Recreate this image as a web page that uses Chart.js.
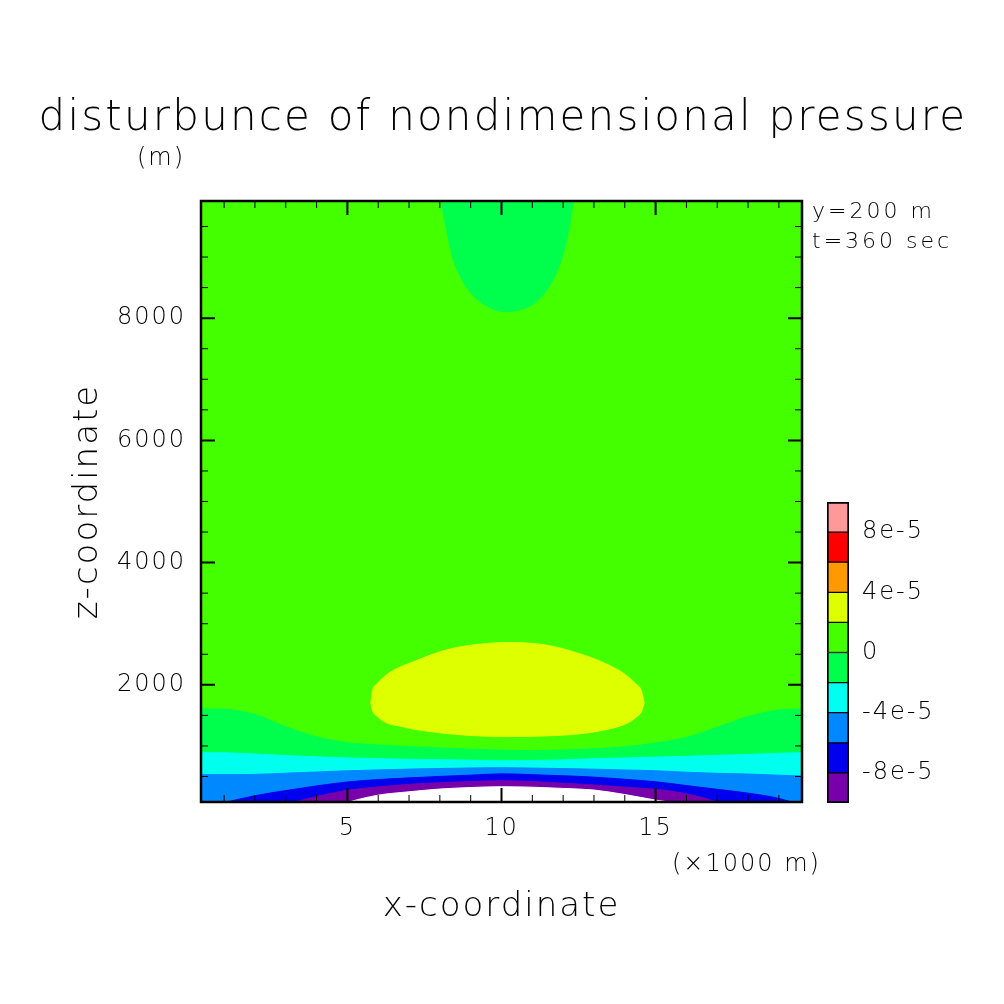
<!DOCTYPE html>
<html>
<head>
<meta charset="utf-8">
<script src="https://cdn.jsdelivr.net/npm/chart.js@4.4.1/dist/chart.umd.min.js"></script>
<style>
  html, body { margin: 0; padding: 0; background: #fff; }
  #page { position: relative; width: 1004px; height: 1004px; overflow: hidden; }
  #main-box { position: absolute; left: 0; top: 0; width: 1004px; height: 1004px; }
  #bar-box { position: absolute; left: 800px; top: 480px; width: 204px; height: 340px; }
  .note { position: absolute; font-family: "DejaVu Sans", sans-serif; font-weight: 200;
          letter-spacing: 2px; line-height: 1; white-space: nowrap; color: #000; }
  #title { left: 0; width: 1004px; text-align: center; padding-left: 2px; box-sizing: border-box;
           top: 95px; font-size: 42px; letter-spacing: 2.2px; }
</style>
</head>
<body>
<div id="page">
  <div id="main-box"><canvas id="main"></canvas></div>
  <div id="bar-box"><canvas id="bar"></canvas></div>
  <div id="title" class="note">disturbunce of nondimensional pressure</div>
  <div class="note" style="left:137px; top:145px; font-size:24px;">(m)</div>
  <div class="note" style="left:812px; top:200px; font-size:22px; letter-spacing:3px;">y=200 m</div>
  <div class="note" style="left:812px; top:230px; font-size:22px; letter-spacing:3px;">t=360 sec</div>
  <div class="note" style="left:672px; top:851px; font-size:24px;">(×1000 m)</div>
</div>
<script>
const FONT = '"DejaVu Sans", sans-serif';

// x positions (x1000 m) where the contour heights were read
const xGrid = [0.25, 1, 2, 3, 4, 5, 6, 7, 8, 9, 10, 11, 12, 13, 14, 15, 16, 17, 18, 19, 19.75];

// contour heights z (m) along xGrid, per level
const zLevel0   = [1606, 1600, 1515, 1315, 1150, 1055, 1015, 990, 968, 948, 932, 925, 933, 955, 985, 1050, 1140, 1305, 1480, 1590, 1606];
const zLevelM2  = [890, 888, 868, 843, 822, 805, 792, 783, 775, 767, 759, 762, 772, 790, 805, 818, 830, 847, 862, 880, 890];
const zLevelM4  = [530, 531, 535, 555, 574, 594, 608, 621, 631, 640, 645, 638, 630, 620, 607, 595, 570, 552, 540, 522, 508];
const zLevelM6  = [-20, 72, 186, 270, 346, 411, 450, 478, 502, 522, 544, 530, 512, 490, 455, 414, 352, 290, 228, 142, 30];
const zLevelM8  = [null, null, -100, 42, 172, 274, 330, 372, 398, 418, 432, 418, 390, 362, 326, 290, 217, 85, -60, null, null];
const zLevelM10 = [null, null, null, null, -80, 77, 195, 250, 295, 320, 333, 325, 305, 279, 205, 114, 40, -80, null, null, null];

// closed +2e-5 region near the ground
const yellowX     = [5.76, 5.81, 5.98, 6.30, 6.63, 7.17, 7.71, 8.36, 9.12, 10.2, 11.40, 12.48, 13.35, 14.0, 14.33, 14.55, 14.63];
const yellowUpper = [1705, 1890, 2027, 2175, 2273, 2382, 2491, 2590, 2655, 2693, 2655, 2519, 2355, 2175, 2027, 1890, 1705];
const yellowLower = [1705, 1590, 1480, 1372, 1333, 1273, 1234, 1196, 1169, 1153, 1164, 1196, 1262, 1355, 1454, 1573, 1705];

// negative region hanging from the top
const topX = [8.03, 8.2, 8.42, 8.74, 9.28, 10.15, 11.02, 11.45, 11.89, 12.16, 12.34];
const topZ = [9950, 9485, 8993, 8610, 8282, 8108, 8228, 8446, 8883, 9375, 9950];

// colour bar
const levels = [-1e-4, -8e-5, -6e-5, -4e-5, -2e-5, 0, 2e-5, 4e-5, 6e-5, 8e-5, 1e-4];
const levelColors = ['#7700aa', '#0000ee', '#0088ff', '#00ffee', '#00ff4c',
                     '#44ff00', '#ddff00', '#ff9900', '#ff0000', '#ff9999'];
const barTicks = [-8e-5, -4e-5, 0, 4e-5, 8e-5];
const barTickLabels = ['-8e-5', '-4e-5', '0', '4e-5', '8e-5'];

// axis ticks
const xLabelTicks = [5, 10, 15];
const xMinorTicks = [1, 2, 3, 4, 5, 6, 7, 8, 9, 10, 11, 12, 13, 14, 15, 16, 17, 18, 19];
const yLabelTicks = [2000, 4000, 6000, 8000];
const yTickLabels = ['2000', '4000', '6000', '8000'];
const yMinorTicks = [500, 1000, 1500, 2000, 2500, 3000, 3500, 4000, 4500, 5000,
                     5500, 6000, 6500, 7000, 7500, 8000, 8500, 9000, 9500];

Chart.defaults.font.family = FONT;
Chart.defaults.color = '#000';

const pts = (xs, zs) => xs.map((x, i) => ({ x, y: zs[i] }));

function band(zs, color, xs = xGrid) {
  return { data: pts(xs, zs), backgroundColor: color, borderColor: color, borderWidth: 1, fill: 'start' };
}

// canvas letter spacing, closer to the stroke font of the original
const spacing = {
  id: 'spacing',
  beforeDraw(chart) { chart.ctx.letterSpacing = '2px'; }
};

const plotBackground = {
  id: 'plotBackground',
  beforeDatasetsDraw(chart) {
    const { ctx, chartArea: a } = chart;
    ctx.save();
    ctx.fillStyle = levelColors[5];
    ctx.fillRect(a.left, a.top, a.right - a.left, a.bottom - a.top);
    ctx.restore();
  }
};

// frame with inward ticks on all four sides
const frameTicks = {
  id: 'frameTicks',
  afterDatasetsDraw(chart) {
    const { ctx, chartArea: a, scales: { x, y } } = chart;
    ctx.save();
    ctx.strokeStyle = '#000';
    xMinorTicks.forEach(v => {
      const px = x.getPixelForValue(v);
      const major = xLabelTicks.includes(v);
      const len = major ? 14 : 7;
      ctx.lineWidth = major ? 2 : 1;
      ctx.beginPath();
      ctx.moveTo(px, a.bottom); ctx.lineTo(px, a.bottom - len);
      ctx.moveTo(px, a.top); ctx.lineTo(px, a.top + len);
      ctx.stroke();
    });
    yMinorTicks.forEach(v => {
      const py = y.getPixelForValue(v);
      const major = yLabelTicks.includes(v);
      const len = major ? 14 : 7;
      ctx.lineWidth = major ? 2 : 1;
      ctx.beginPath();
      ctx.moveTo(a.left, py); ctx.lineTo(a.left + len, py);
      ctx.moveTo(a.right, py); ctx.lineTo(a.right - len, py);
      ctx.stroke();
    });
    ctx.lineWidth = 2.5;
    ctx.strokeRect(a.left, a.top, a.right - a.left, a.bottom - a.top);
    ctx.restore();
  }
};

// dataset 0 is drawn last (on top)
const datasets = [
  band(zLevelM10, '#ffffff'),
  band(zLevelM8, levelColors[0]),
  band(zLevelM6, levelColors[1]),
  band(zLevelM4, levelColors[2]),
  band(zLevelM2, levelColors[3]),
  band(zLevel0, levelColors[4]),
  { data: pts(yellowX, yellowUpper), backgroundColor: levelColors[6], borderColor: levelColors[6], borderWidth: 1, fill: '+1' },
  { data: pts(yellowX, yellowLower), borderColor: levelColors[6], borderWidth: 1, fill: false },
  { data: pts(topX, topZ), backgroundColor: levelColors[4], borderColor: levelColors[4], borderWidth: 1, fill: 'end' }
];

new Chart(document.getElementById('main'), {
  type: 'line',
  data: { datasets },
  options: {
    responsive: true,
    maintainAspectRatio: false,
    animation: false,
    layout: { padding: { left: 0, top: 201, right: 202, bottom: 62 } },
    elements: {
      point: { radius: 0 },
      line: { cubicInterpolationMode: 'monotone' }
    },
    plugins: {
      legend: { display: false },
      tooltip: { enabled: false }
    },
    scales: {
      x: {
        type: 'linear',
        min: 0.25,
        max: 19.75,
        grid: { display: false, drawTicks: false },
        border: { display: false },
        afterBuildTicks: s => { s.ticks = xLabelTicks.map(v => ({ value: v })); },
        afterFit: s => { s.height = 140; },
        ticks: { font: { size: 24, weight: '200' }, padding: 12, maxRotation: 0, autoSkip: false },
        title: { display: true, text: 'x-coordinate', font: { size: 34, weight: '200' }, padding: { top: 0, bottom: 14 } }
      },
      y: {
        type: 'linear',
        min: 83,
        max: 9917,
        grid: { display: false, drawTicks: false },
        border: { display: false },
        afterBuildTicks: s => { s.ticks = yLabelTicks.map(v => ({ value: v })); },
        afterFit: s => { s.width = 201; },
        ticks: { font: { size: 24, weight: '200' }, padding: 15, autoSkip: false,
                 callback: (v, i) => yTickLabels[i] },
        title: { display: true, text: 'z-coordinate', font: { size: 34, weight: '200' }, padding: { top: 68, bottom: 0 } }
      }
    }
  },
  plugins: [spacing, plotBackground, frameTicks]
});

// colour bar: one floating bar per level interval
new Chart(document.getElementById('bar'), {
  type: 'bar',
  data: {
    labels: [''],
    datasets: levelColors.map((c, i) => ({
      data: [[levels[i], levels[i + 1]]],
      backgroundColor: c,
      borderColor: '#000',
      borderWidth: { left: 2, right: 2, top: i === levelColors.length - 1 ? 2 : 1, bottom: i === 0 ? 2 : 1 },
      borderSkipped: false,
      categoryPercentage: 1,
      barPercentage: 1
    }))
  },
  options: {
    responsive: true,
    maintainAspectRatio: false,
    animation: false,
    layout: { padding: { left: 27, top: 22, right: 0, bottom: 17 } },
    plugins: { legend: { display: false }, tooltip: { enabled: false } },
    scales: {
      x: { display: false, stacked: true },
      y: {
        position: 'right',
        min: -1e-4,
        max: 1e-4,
        grid: { display: false, drawTicks: true, tickLength: 13, tickColor: 'transparent' },
        border: { display: false },
        afterBuildTicks: s => { s.ticks = barTicks.map(v => ({ value: v })); },
        afterFit: s => { s.width = 155; },
        ticks: { font: { size: 24, weight: '200' }, padding: 0, autoSkip: false,
                 callback: (v, i) => barTickLabels[i] }
      }
    }
  },
  plugins: [spacing]
});
</script>
</body>
</html>
